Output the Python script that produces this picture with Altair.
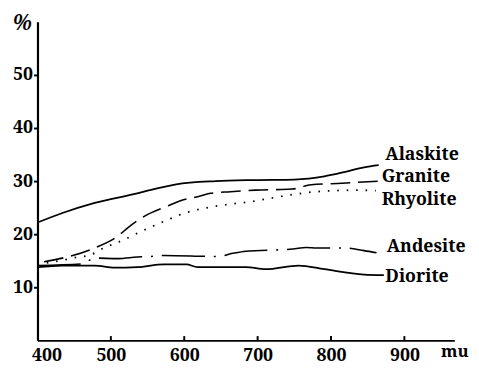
import altair as alt
import pandas as pd

# wavelength (mu) and reflectance (%)
alaskite_x = [400, 434, 478, 536, 550, 589, 643, 697, 750, 791, 818, 845, 865]
alaskite_y = [22.2, 24.0, 25.9, 27.7, 28.2, 29.4, 30.0, 30.2, 30.3, 30.9, 31.7, 32.6, 33.0]

granite_x = [409, 474, 510, 523, 546, 579, 593, 622, 636, 663, 697, 747, 773, 815, 865]
granite_y = [14.8, 17.2, 19.7, 21.2, 23.4, 25.4, 26.2, 27.2, 27.7, 28.0, 28.3, 28.5, 29.3, 29.6, 30.0]

rhyolite_x = [400, 430, 456, 470, 492, 517, 541, 574, 601, 636, 664, 689, 727, 765, 804, 838, 861]
rhyolite_y = [14.3, 15.0, 15.7, 16.0, 17.5, 18.9, 20.5, 22.5, 24.0, 25.1, 25.7, 26.1, 27.0, 27.8, 28.2, 28.3, 28.2]

andesite_x = [400, 461, 478, 510, 536, 554, 572, 646, 666, 684, 748, 766, 781, 818, 845, 862]
andesite_y = [14.1, 14.4, 15.5, 15.4, 15.7, 15.8, 16.0, 15.8, 16.4, 16.8, 17.2, 17.5, 17.4, 17.4, 16.9, 16.5]

diorite_x = [400, 434, 478, 505, 536, 572, 603, 618, 652, 684, 711, 756, 791, 845, 872]
diorite_y = [13.8, 14.1, 14.1, 13.7, 13.8, 14.3, 14.3, 13.8, 13.8, 13.8, 13.4, 14.1, 13.4, 12.4, 12.3]

label_names = ["Alaskite", "Granite", "Rhyolite", "Andesite", "Diorite"]
label_x = [874, 869, 869, 876, 874]
label_y = [34.9, 30.7, 26.4, 17.6, 12.0]

x_ticks = [400, 500, 600, 700, 800, 900]
y_ticks = [10, 20, 30, 40, 50]

SERIF = "Noto Serif"

xs = alt.Scale(domain=[400, 968], nice=False, zero=False)
ys = alt.Scale(domain=[0, 60], nice=False)

x_axis = alt.Axis(values=x_ticks, tickSize=0, labelPadding=7, labelFlush=True,
                  labelFlushOffset=6, title="mu", titleX=424, titleY=11,
                  titleAlign="center", titleBaseline="middle", titleFont=SERIF,
                  titleFontSize=17, titleFontWeight="bold", grid=False,
                  domainColor="black", domainWidth=1.6, labelFont=SERIF,
                  labelFontSize=18, labelFontWeight="bold", labelColor="black",
                  titleColor="black")
y_axis = alt.Axis(values=y_ticks, tickSize=4, tickWidth=2, tickColor="black",
                  labelPadding=1, title="%", titleAngle=0, titleX=-16, titleY=1,
                  titleAlign="center", titleBaseline="middle", titleFont=SERIF,
                  titleFontSize=22, titleFontWeight="bold", titleFontStyle="italic",
                  grid=False, domainColor="black", domainWidth=2.2, labelFont=SERIF,
                  labelFontSize=18, labelFontWeight="bold", labelColor="black",
                  titleColor="black")


def series(xv, yv, dash=None, width=1.6):
    df = pd.DataFrame({"wl": xv, "pct": yv})
    kw = dict(color="black", strokeWidth=width, interpolate="monotone")
    if dash:
        kw["strokeDash"] = dash
    return alt.Chart(df).mark_line(**kw).encode(
        x=alt.X("wl:Q", scale=xs, axis=x_axis),
        y=alt.Y("pct:Q", scale=ys, axis=y_axis),
    )


lines = [
    series(alaskite_x, alaskite_y, width=1.8),
    series(granite_x, granite_y, dash=[20, 8]),
    series(rhyolite_x, rhyolite_y, dash=[1.6, 8], width=1.8),
    series(andesite_x, andesite_y, dash=[44, 9, 2, 9]),
    series(diorite_x, diorite_y, width=1.8),
]

tick_df = pd.DataFrame({"wl": x_ticks[1:]})
inner_ticks = alt.Chart(tick_df).mark_rule(color="black", strokeWidth=2).encode(
    x=alt.X("wl:Q", scale=xs, axis=x_axis),
    y=alt.datum(0, scale=ys),
    y2=alt.datum(0.8),
)

lab_df = pd.DataFrame({"name": label_names, "wl": label_x, "pct": label_y})
labels = alt.Chart(lab_df).mark_text(
    align="left", baseline="middle", font=SERIF, fontSize=18,
    fontWeight="bold", color="black"
).encode(
    x=alt.X("wl:Q", scale=xs, axis=x_axis),
    y=alt.Y("pct:Q", scale=ys, axis=y_axis),
    text="name:N",
)

chart = alt.layer(*lines, inner_ticks, labels).properties(
    width=424, height=324,
    autosize=alt.AutoSizeParams(type="none"),
    padding={"left": 30, "top": 11, "right": 17, "bottom": 24},
    background="white",
).configure_view(stroke=None)

chart.save("out.html", embed_options={"renderer": "svg", "actions": False})
